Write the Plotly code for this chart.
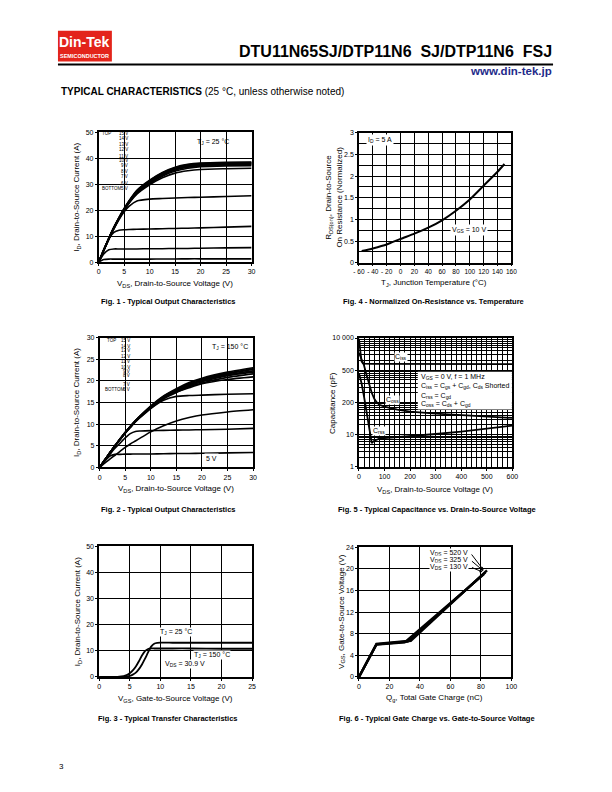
import plotly.graph_objects as go

W, H = 612, 792
FONT = "Liberation Sans, Arial, sans-serif"

def px(x):
    return x / W

def py(y):
    return 1 - y / H

# ---------------- data ----------------
# Fig 1 - output characteristics, TJ = 25 C
f1_vds = [0, 1, 2, 3, 4, 5, 6, 7.5, 10, 12.5, 15, 17.5, 20, 25, 30]
f1_labels = ["15 V", "14 V", "13 V", "12 V", "11 V", "10 V", "9 V", "8 V", "7 V", "6 V", "5 V", "4.5 V"]
f1_id = [
    [0, 4.7, 9.3, 13.5, 17.3, 20.7, 23.8, 27.7, 31.6, 34.6, 36.6, 37.7, 38.2, 38.5, 38.6],
    [0, 4.7, 9.3, 13.5, 17.2, 20.6, 23.6, 27.5, 31.4, 34.4, 36.4, 37.5, 38.0, 38.3, 38.4],
    [0, 4.6, 9.2, 13.4, 17.1, 20.5, 23.5, 27.3, 31.2, 34.2, 36.2, 37.3, 37.8, 38.1, 38.2],
    [0, 4.6, 9.2, 13.3, 17.0, 20.4, 23.4, 27.1, 31.0, 34.0, 36.0, 37.1, 37.6, 37.9, 38.0],
    [0, 4.6, 9.1, 13.3, 17.0, 20.3, 23.3, 27.0, 30.8, 33.8, 35.8, 36.9, 37.4, 37.7, 37.8],
    [0, 4.5, 9.1, 13.2, 16.9, 20.2, 23.1, 26.8, 30.5, 33.5, 35.5, 36.6, 37.1, 37.4, 37.5],
    [0, 4.5, 9.0, 13.1, 16.8, 20.1, 23.0, 26.6, 30.2, 33.1, 35.1, 36.2, 36.8, 37.1, 37.2],
    [0, 4.5, 9.0, 13.0, 16.7, 20.0, 22.8, 26.2, 29.8, 32.5, 34.3, 35.2, 35.7, 36.0, 36.2],
    [0, 4.4, 8.8, 12.8, 16.4, 19.4, 21.6, 23.6, 24.3, 24.5, 24.7, 24.9, 25.0, 25.3, 25.6],
    [0, 5.0, 9.0, 11.5, 12.3, 12.5, 12.6, 12.7, 12.8, 12.9, 13.0, 13.1, 13.2, 13.5, 13.8],
    [0, 3.2, 4.8, 5.1, 5.1, 5.1, 5.1, 5.1, 5.2, 5.2, 5.3, 5.3, 5.4, 5.5, 5.6],
    [0, 1.0, 1.2, 1.2, 1.2, 1.2, 1.2, 1.2, 1.2, 1.25, 1.25, 1.3, 1.3, 1.3, 1.3],
]
f1_legend = ["15 V", "14 V", "13 V", "12 V", "11 V", "10 V", "9 V", "8 V", "7 V", "6 V", "5 V"]

# Fig 2 - output characteristics, TJ = 150 C
f2_vds = [0, 1, 2, 3, 4, 5, 6, 7, 8, 10, 12.5, 15, 17.5, 20, 25, 30]
f2_id = [
    [0, 1.7, 3.4, 5.0, 6.6, 8.1, 9.5, 10.8, 12.0, 14.2, 16.5, 18.2, 19.6, 20.6, 22.0, 23.0],
    [0, 1.7, 3.4, 5.0, 6.6, 8.1, 9.5, 10.8, 11.9, 14.1, 16.4, 18.0, 19.4, 20.4, 21.8, 22.8],
    [0, 1.7, 3.4, 5.0, 6.5, 8.0, 9.4, 10.7, 11.9, 14.0, 16.3, 17.9, 19.2, 20.2, 21.6, 22.6],
    [0, 1.7, 3.4, 5.0, 6.5, 8.0, 9.4, 10.7, 11.8, 13.9, 16.1, 17.7, 19.0, 20.0, 21.4, 22.3],
    [0, 1.7, 3.4, 5.0, 6.5, 8.0, 9.3, 10.6, 11.7, 13.8, 16.0, 17.5, 18.8, 19.8, 21.2, 22.0],
    [0, 1.7, 3.4, 4.9, 6.5, 7.9, 9.3, 10.6, 11.7, 13.7, 15.8, 17.3, 18.6, 19.5, 20.8, 21.6],
    [0, 1.7, 3.4, 5.0, 6.5, 8.0, 9.4, 10.7, 11.9, 14.0, 16.0, 17.4, 18.4, 19.3, 20.3, 20.9],
    [0, 1.7, 3.3, 4.9, 6.4, 7.9, 9.2, 10.5, 11.6, 13.6, 15.5, 16.4, 16.6, 16.7, 16.9, 17.0],
    [0, 1.0, 1.9, 2.8, 3.7, 4.6, 5.4, 6.1, 6.8, 8.2, 9.6, 10.7, 11.5, 12.1, 12.8, 13.3],
    [0, 1.6, 3.0, 4.4, 5.6, 6.8, 7.8, 8.3, 8.4, 8.5, 8.55, 8.6, 8.65, 8.7, 8.8, 9.0],
    [0, 1.4, 2.6, 3.0, 3.0, 3.05, 3.05, 3.1, 3.1, 3.1, 3.15, 3.2, 3.2, 3.25, 3.35, 3.45],
]
f2_legend = ["15 V", "14 V", "13 V", "12 V", "11 V", "10 V", "9 V", "8 V", "7 V", "6 V"]

# Fig 3 - transfer characteristics
f3_vgs = [0, 2, 3, 4, 4.5, 5, 5.5, 6, 6.5, 7, 7.5, 8, 8.5, 9, 9.5, 10, 12, 15, 20, 25]
f3_id_25 = [0, 0, 0, 0.05, 0.15, 0.4, 0.9, 1.7, 3.0, 4.8, 7.0, 9.4, 11.6, 12.7, 13.0, 13.1, 13.1, 13.1, 13.1, 13.1]
f3_id_150 = [0, 0, 0.05, 0.3, 0.7, 1.4, 2.5, 4.0, 6.0, 8.2, 9.9, 10.7, 10.9, 10.9, 10.9, 10.9, 10.9, 10.9, 10.8, 10.8]

# Fig 4 - normalized on-resistance vs temperature
f4_tj = [-56, -40, -20, 0, 20, 40, 60, 80, 100, 120, 140, 150]
f4_r = [0.27, 0.33, 0.42, 0.55, 0.67, 0.81, 0.98, 1.2, 1.46, 1.78, 2.1, 2.28]
f4_xt = [-60, -40, -20, 0, 20, 40, 60, 80, 100, 120, 140, 160]
f4_xtext = ["- 60", "- 40", "- 20", "0", "20", "40", "60", "80", "100", "120", "140", "160"]

# Fig 5 - capacitance vs VDS
f5_ciss_v = [0, 3, 6, 10, 15, 20, 50, 100, 200, 300, 400, 500, 600]
f5_ciss = [9500, 5000, 2800, 1900, 1650, 1600, 1580, 1570, 1560, 1550, 1550, 1545, 1540]
f5_coss_v = [0, 10, 20, 30, 40, 50, 60, 70, 80, 100, 150, 200, 300, 400, 500, 600]
f5_coss = [3500, 2200, 1400, 700, 350, 200, 130, 100, 85, 74, 60, 52, 45, 40, 36, 33]
f5_crss_v = [0, 10, 20, 30, 40, 50, 60, 80, 100, 150, 200, 300, 400, 500, 600]
f5_crss = [800, 400, 150, 50, 15, 5.5, 6.5, 7.5, 7.8, 8.3, 9, 10.5, 12.5, 15.5, 19]
f5_ytv = [1, 10, 100, 1000, 10000]
f5_ytext = ["1", "10", "200", "500", "10 000"]

# Fig 6 - gate charge
f6_qg = {
    "520 V": [0, 11.5, 34, 84],
    "325 V": [0, 11.5, 32, 83],
    "130 V": [0, 11.5, 30, 82],
}
f6_vgs = {
    "520 V": [0, 6.1, 6.7, 19.7],
    "325 V": [0, 6.05, 6.55, 19.35],
    "130 V": [0, 6.0, 6.4, 19.0],
}

# ---------------- layout geometry (page px) ----------------
panels = [
    dict(x=(94.5, 250.5), y=(129.5, 260.5)),   # Fig 1
    dict(x=(360, 515.5), y=(130, 261)),        # Fig 4
    dict(x=(95.5, 252), y=(336.5, 467.5)),     # Fig 2
    dict(x=(360, 516.5), y=(337, 467)),        # Fig 5
    dict(x=(95, 251), y=(547, 679)),           # Fig 3
    dict(x=(360, 515.5), y=(548, 679)),        # Fig 6
]

fig = go.Figure()
layout = dict(
    width=W, height=H, margin=dict(l=0, r=0, t=0, b=0),
    paper_bgcolor="white", plot_bgcolor="white", showlegend=False,
    font=dict(family=FONT, color="black", size=7),
)

def ax_common():
    return dict(showline=True, mirror=True, linecolor="black", linewidth=1.5,
                showgrid=True, gridcolor="black", gridwidth=1, zeroline=False,
                ticks="outside", ticklen=2, tickcolor="black", tickangle=0,
                tickfont=dict(family=FONT, size=7, color="black"))

axcfg = [
    (dict(range=[0, 30], dtick=5), dict(range=[0, 50], dtick=10)),
    (dict(range=[-60, 160], tickvals=f4_xt, ticktext=f4_xtext, tickfont=dict(family=FONT, size=6.5, color="black")),
     dict(range=[0, 3], dtick=0.5, minor=dict(dtick=0.25, showgrid=True, gridcolor="black", gridwidth=1))),
    (dict(range=[0, 30], dtick=5), dict(range=[0, 30], dtick=5)),
    (dict(range=[0, 600], dtick=100, minor=dict(dtick=20, showgrid=True, gridcolor="black", gridwidth=1)),
     dict(type="log", range=[0, 4], tickvals=f5_ytv, ticktext=f5_ytext,
          minor=dict(tickvals=[m * 10 ** d for d in range(4) for m in range(2, 10)],
                     showgrid=True, gridcolor="black", gridwidth=1))),
    (dict(range=[0, 25], dtick=5), dict(range=[0, 50], dtick=10)),
    (dict(range=[0, 100], dtick=20), dict(range=[0, 24], dtick=4)),
]

for i, (p, (xc, yc)) in enumerate(zip(panels, axcfg)):
    n = "" if i == 0 else str(i + 1)
    xa = ax_common(); xa.update(xc)
    ya = ax_common(); ya.update(yc)
    xa.update(domain=[px(p["x"][0]), px(p["x"][1])], anchor="y" + n)
    ya.update(domain=[py(p["y"][1]), py(p["y"][0])], anchor="x" + n)
    layout["xaxis" + n] = xa
    layout["yaxis" + n] = ya

def add(x, y, i, name, width=1.6, shape="spline"):
    n = "" if i == 0 else str(i + 1)
    fig.add_trace(go.Scatter(x=x, y=y, mode="lines", name=name,
                             line=dict(color="black", width=width, shape=shape, smoothing=0.6),
                             xaxis="x" + n, yaxis="y" + n))

for lab, ys in zip(f1_labels, f1_id):
    add(f1_vds, ys, 0, "25C " + lab)
add(f4_tj, f4_r, 1, "RDS(on)", width=2)
for k, ys in enumerate(f2_id):
    add(f2_vds, ys, 2, "150C %d" % k)
add(f5_ciss_v, f5_ciss, 3, "Ciss", width=1.8, shape="linear")
add(f5_coss_v, f5_coss, 3, "Coss", width=1.8, shape="linear")
add(f5_crss_v, f5_crss, 3, "Crss", width=1.8, shape="linear")
add(f3_vgs, f3_id_25, 4, "TJ=25", width=1.8)
add(f3_vgs, f3_id_150, 4, "TJ=150", width=1.8)
for k in f6_qg:
    add(f6_qg[k], f6_vgs[k], 5, "VDS=" + k, width=2.4, shape="linear")

shapes = []
ann = []

def rect(x0, y0, x1, y1, color="white", layer="between"):
    shapes.append(dict(type="rect", xref="paper", yref="paper", x0=px(x0), x1=px(x1),
                       y0=py(y1), y1=py(y0), fillcolor=color, line=dict(width=0), layer=layer))

def text(x, y, t, size=7, xanchor="center", yanchor="middle", bold=False, color="black",
         angle=0, bg=None, pad=0):
    d = dict(x=px(x), y=py(y), xref="paper", yref="paper", text=("<b>%s</b>" % t) if bold else t,
             showarrow=False, xanchor=xanchor, yanchor=yanchor, textangle=angle,
             font=dict(family=FONT, size=size, color=color), borderpad=pad)
    if bg:
        d["bgcolor"] = bg
    ann.append(d)

# header
rect(53, 27, 108, 58, color="#e3241b", layer="above")
text(80.5, 38, "Din-Tek", size=14, bold=True, color="white")
text(80.5, 52, "SEMICONDUCTOR", size=5.5, bold=True, color="white")
shapes.append(dict(type="line", xref="paper", yref="paper", x0=px(53), x1=px(558),
                   y0=py(61), y1=py(61), line=dict(color="black", width=2)))
text(558, 48, "DTU11N65SJ/DTP11N6  SJ/DTP11N6  FSJ", size=16, bold=True, xanchor="right")
text(558, 68, "www.din-tek.jp", size=11.5, bold=True, xanchor="right", color="#1f2a8a")
text(55, 88, "<b>TYPICAL CHARACTERISTICS</b> (25 °C, unless otherwise noted)", size=10, xanchor="left")

# captions
text(165, 300, "Fig. 1 - Typical Output Characteristics", size=7.5, bold=True)
text(436, 300, "Fig. 4 - Normalized On-Resistance vs. Temperature", size=7.5, bold=True)
text(165, 510, "Fig. 2 - Typical Output Characteristics", size=7.5, bold=True)
text(440, 510, "Fig. 5 - Typical Capacitance vs. Drain-to-Source Voltage", size=7.5, bold=True)
text(165, 721, "Fig. 3 - Typical Transfer Characteristics", size=7.5, bold=True)
text(440, 721, "Fig. 6 - Typical Gate Charge vs. Gate-to-Source Voltage", size=7.5, bold=True)
text(57, 769, "3", size=8)

# axis titles
text(172.5, 283, "V<sub>DS</sub>, Drain-to-Source Voltage (V)", size=8)
text(73, 195, "I<sub>D</sub>, Drain-to-Source Current (A)", size=8, angle=-90)
text(437, 281, "T<sub>J</sub>, Junction Temperature (°C)", size=8)
text(330, 195, "R<sub>DS(on)</sub>, Drain-to-Source", size=8, angle=-90)
text(340, 195, "On Resistance (Normalized)", size=8, angle=-90)
text(173.5, 489, "V<sub>DS</sub>, Drain-to-Source Voltage (V)", size=8)
text(73, 402, "I<sub>D</sub>, Drain-to-Source Current (A)", size=8, angle=-90)
text(438, 490, "V<sub>DS</sub>, Drain-to-Source Voltage (V)", size=8)
text(333, 402, "Capacitance (pF)", size=8, angle=-90)
text(173, 701, "V<sub>GS</sub>, Gate-to-Source Voltage (V)", size=8)
text(73, 613, "I<sub>D</sub>, Drain-to-Source Current (A)", size=8, angle=-90)
text(437, 700, "Q<sub>g</sub>, Total Gate Charge (nC)", size=8)
text(342, 613, "V<sub>GS</sub>, Gate-to-Source Voltage (V)", size=8, angle=-90)

# Fig 1 legend / labels
rect(95.3, 130.3, 119.8, 190)
rect(119.8, 130.3, 127, 155)
rect(202, 130.3, 249.7, 145)
f1_leg_y = [131, 135.5, 142, 147, 153.5, 158, 163, 169, 174, 181, 186]
for lab, yy in zip(f1_legend, f1_leg_y):
    text(125, yy, lab, size=4.5, xanchor="right")
text(97, 131, "TOP", size=4.5, xanchor="left")
text(97, 186, "BOTTOM", size=4.5, xanchor="left")
text(211, 139, "T<sub>J</sub> = 25 °C", size=7)

# Fig 2 legend / labels
rect(96.3, 337.3, 124, 393)
rect(203, 337.3, 251.2, 357)
f2_leg_y = [339, 346, 350, 356, 361, 367, 371, 375, 384, 389]
for lab, yy in zip(f2_legend, f2_leg_y):
    text(128, yy, lab, size=4.5, xanchor="right")
text(102, 339, "TOP", size=4.5, xanchor="left")
text(100, 389, "BOTTOM", size=4.5, xanchor="left")
text(228, 346, "T<sub>J</sub> = 150 °C", size=7)
text(210, 459, "5 V", size=7, bg="white", pad=1)

# Fig 3 labels
text(173, 634, "T<sub>J</sub> = 25 °C", size=7, bg="white", pad=0)
text(210, 657, "T<sub>J</sub> = 150 °C", size=7, bg="white", pad=0)
text(183, 666, "V<sub>DS</sub> = 30.9 V", size=7, bg="white", pad=0)

# Fig 4 labels
text(381, 137, "I<sub>D</sub> = 5 A", size=7, bg="white", pad=1)
text(472, 228, "V<sub>GS</sub> = 10 V", size=7, bg="white", pad=1)

# Fig 5 labels
text(403, 356, "C<sub>iss</sub>", size=7, bg="white", pad=0)
text(394, 400, "C<sub>oss</sub>", size=7, bg="white", pad=0)
text(380, 431, "C<sub>rss</sub>", size=7, bg="white", pad=0)
rect(420, 371, 516, 409, layer="above")
text(422, 376.5, "V<sub>GS</sub> = 0 V, f = 1 MHz", size=7, xanchor="left")
text(422, 385, "C<sub>iss</sub> = C<sub>gs</sub> + C<sub>gd</sub>, C<sub>ds</sub> Shorted", size=7, xanchor="left")
text(422, 395, "C<sub>rss</sub> = C<sub>gd</sub>", size=7, xanchor="left")
text(422, 403.5, "C<sub>oss</sub> = C<sub>ds</sub> + C<sub>gd</sub>", size=7, xanchor="left")

# Fig 6 labels
for lab, yy, tx, ty in [("520 V", 554, 487, 571), ("325 V", 561, 487, 572), ("130 V", 568, 486, 573)]:
    text(472, yy, "V<sub>DS</sub> = " + lab, size=7, xanchor="right", bg="white", pad=0)
    ann.append(dict(x=px(tx), y=py(ty), ax=474 - tx, ay=yy - ty, xref="paper", yref="paper",
                    axref="pixel", ayref="pixel", showarrow=True, arrowhead=2, arrowsize=0.6,
                    arrowwidth=1, arrowcolor="black", text=""))

layout["shapes"] = shapes
layout["annotations"] = ann
fig.update_layout(**layout)
fig.write_html("out.html", config={"displayModeBar": False},
               post_script="document.body.style.margin='0px';document.body.style.overflow='hidden';")
